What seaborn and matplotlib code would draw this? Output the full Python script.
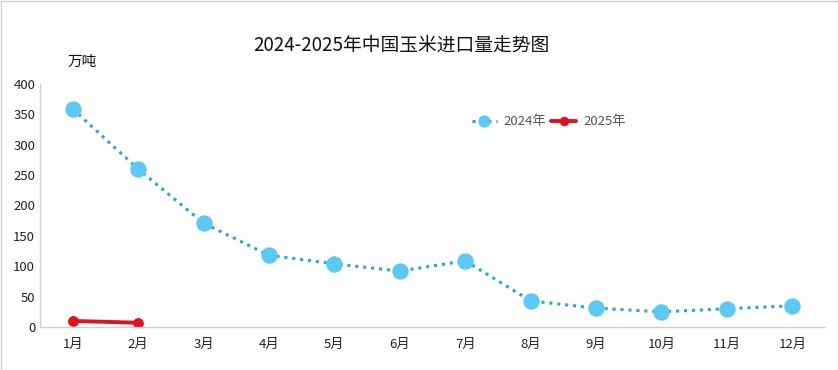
import matplotlib
matplotlib.use("Agg")
import matplotlib.pyplot as plt
import seaborn as sns
import pandas as pd

months = ["1月", "2月", "3月", "4月", "5月", "6月", "7月", "8月", "9月", "10月", "11月", "12月"]
imports_2024 = [359, 260, 171, 118, 104, 92, 109, 43, 31, 25, 30, 35]
months_2025 = ["1月", "2月"]
imports_2025 = [10, 7]
yticks = [0, 50, 100, 150, 200, 250, 300, 350, 400]

sns.set_theme(style="white")
plt.rcParams['font.family'] = ['Noto Sans CJK SC', 'DejaVu Sans']

fig = plt.figure(figsize=(8.38, 3.70), dpi=100)
ax = fig.add_axes([40/838, 1-327/370, 785/838, 243/370])

df24 = pd.DataFrame({"month": months, "value": imports_2024})
df25 = pd.DataFrame({"month": months_2025, "value": imports_2025})

sns.lineplot(data=df24, x="month", y="value", ax=ax, color="#22A9D6", linestyle=(0, (1, 1.6)),
             linewidth=2.2, marker="o", markersize=11, markerfacecolor="#5BC8F5",
             markeredgecolor="#5BC8F5", label="2024年", sort=False)
sns.lineplot(data=df25, x="month", y="value", ax=ax, color="#E3101B", linewidth=2.8,
             marker="o", markersize=7, markerfacecolor="#E3101B", markeredgecolor="#E3101B",
             label="2025年", sort=False)

ax.set_xlim(-0.5, 11.5)
ax.set_ylim(0, 400)
ax.set_yticks(yticks)
ax.set_xlabel("")
ax.set_ylabel("")
ax.tick_params(axis="both", labelsize=9.5, length=0, colors="#222222")
ax.tick_params(axis="x", pad=8)
for s in ["top", "right"]:
    ax.spines[s].set_visible(False)
for s in ["left", "bottom"]:
    ax.spines[s].set_color("#D0D0D0")
    ax.spines[s].set_linewidth(1)

leg = ax.legend(loc="upper left", bbox_to_anchor=(0.535, 0.92), ncol=2, frameon=False,
                fontsize=9.5, handlelength=1.9, columnspacing=0.4, handletextpad=0.5)
handles = leg.legend_handles
handles[0].set_markersize(8)
handles[1].set_markersize(6)
for t in leg.get_texts():
    t.set_color("#555555")

fig.text(401/838, 1-45/370, "2024-2025年中国玉米进口量走势图", ha="center", va="center", fontsize=13.5, color="#111111")
fig.text(68/838, 1-62/370, "万吨", ha="left", va="center", fontsize=10.5, color="#111111")

border = plt.Rectangle((0.5/838, 0.5/370), 837/838, 369/370, transform=fig.transFigure,
                       fill=False, edgecolor="#D0D0D0", linewidth=1)
fig.patches.append(border)

fig.savefig("out.png", dpi=100)
